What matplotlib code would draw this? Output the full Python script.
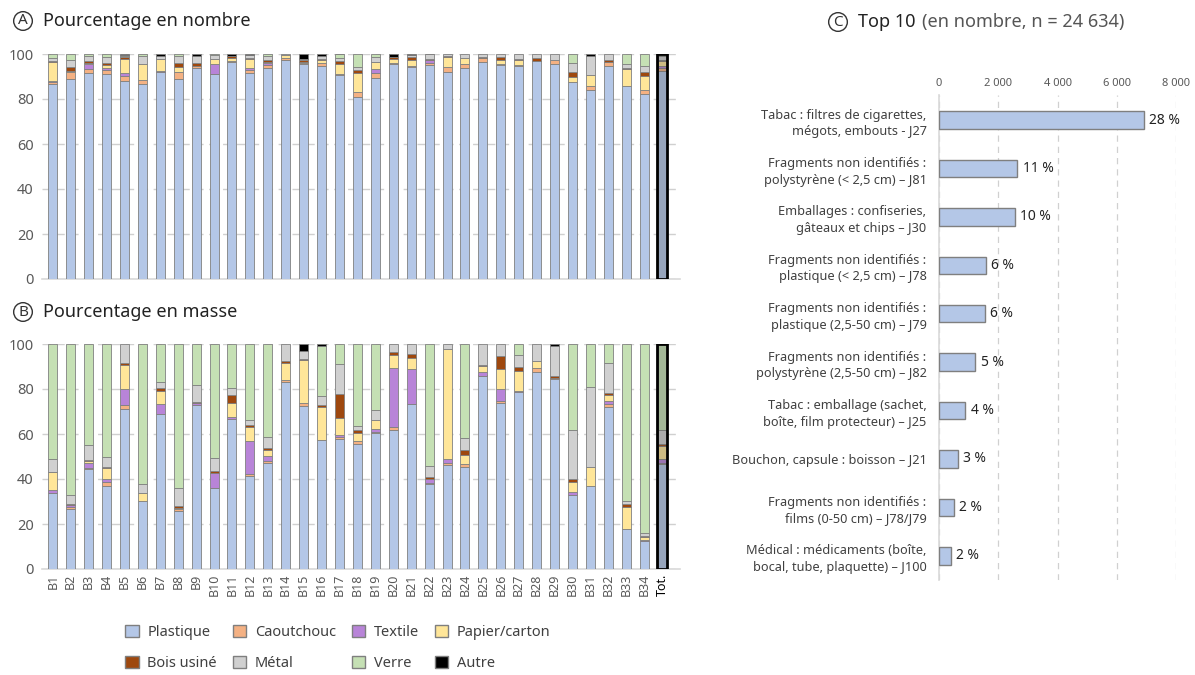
import numpy as np
import matplotlib.pyplot as plt
from matplotlib.patches import Patch

plt.rcParams['font.family'] = ['Noto Sans', 'DejaVu Sans']

sites = ["B1", "B2", "B3", "B4", "B5", "B6", "B7", "B8", "B9", "B10", "B11", "B12",
         "B13", "B14", "B15", "B16", "B17", "B18", "B19", "B20", "B21", "B22", "B23",
         "B24", "B25", "B26", "B27", "B28", "B29", "B30", "B31", "B32", "B33", "B34", "Tot."]

materiaux = ["Plastique", "Caoutchouc", "Textile", "Papier/carton",
             "Bois usiné", "Métal", "Verre", "Autre"]
couleurs = ["#B4C7E7", "#F4B183", "#B884D8", "#FFE699",
            "#9E480E", "#D0D0D0", "#C5E0B4", "#000000"]

# A : pourcentage en nombre
nb_plastique = [86.5, 88.8, 91.4, 91.0, 88.2, 86.6, 91.8, 89.0, 93.6, 91.0, 96.4, 91.4,
                93.9, 97.2, 95.5, 94.5, 90.5, 80.8, 89.3, 95.7, 94.2, 95.2, 92.2,
                93.8, 96.3, 95.2, 94.8, 96.7, 95.7, 87.6, 84.0, 94.5, 85.9, 82.3, 92.6]
nb_caoutchouc = [1.2, 3.0, 2.0, 1.8, 2.2, 2.0, 0.3, 3.0, 0.9, 0.3, 0.3, 1.3,
                 1.3, 1.0, 0.4, 1.5, 0.6, 2.2, 2.2, 0.5, 0.5, 0.8, 2.0,
                 1.9, 1.9, 0.3, 0.5, 0.4, 1.5, 0.0, 1.8, 1.8, 0.0, 1.8, 1.2]
nb_textile = [0.5, 0.3, 2.0, 1.0, 1.3, 0.0, 0.5, 0.2, 0.0, 4.2, 0.0, 1.2,
              1.0, 0.0, 0.0, 0.0, 0.0, 0.0, 1.8, 0.0, 0.0, 1.2, 0.0,
              0.0, 0.0, 0.0, 0.0, 0.0, 0.0, 0.0, 0.0, 0.0, 0.0, 0.0, 0.7]
nb_papier = [8.3, 0.3, 0.7, 1.5, 6.2, 7.0, 5.0, 2.2, 0.0, 2.4, 1.5, 4.0,
             0.3, 1.5, 0.5, 1.5, 4.5, 8.5, 3.0, 1.5, 2.5, 0.0, 4.5,
             2.5, 0.0, 1.9, 1.9, 0.0, 0.0, 2.0, 5.0, 0.0, 7.4, 6.2, 2.2]
nb_bois = [0.3, 2.0, 1.0, 0.5, 0.6, 0.0, 0.4, 1.4, 1.5, 0.0, 0.7, 0.3,
           1.0, 0.0, 0.8, 0.4, 1.2, 1.2, 0.2, 0.8, 1.5, 0.6, 0.4,
           0.0, 0.6, 1.4, 0.6, 1.3, 0.0, 2.2, 0.0, 1.2, 0.6, 1.5, 0.7]
nb_metal = [1.5, 3.0, 1.8, 3.0, 0.7, 3.3, 1.0, 3.3, 3.3, 1.7, 0.0, 1.2,
            1.6, 0.3, 0.8, 1.3, 1.5, 1.6, 2.0, 0.3, 0.8, 2.0, 0.9,
            1.8, 1.2, 1.2, 2.2, 1.6, 2.8, 4.0, 8.3, 2.5, 1.6, 3.0, 1.5]
nb_verre = [1.7, 2.6, 1.1, 1.2, 0.5, 1.1, 0.2, 0.9, 0.0, 0.4, 0.0, 0.2,
            0.9, 0.0, 0.0, 0.0, 1.5, 5.7, 1.5, 0.0, 0.0, 0.0, 0.0,
            0.0, 0.0, 0.0, 0.0, 0.0, 0.0, 4.2, 0.0, 0.0, 4.5, 5.2, 0.9]
nb_autre = [0.0, 0.0, 0.0, 0.0, 0.3, 0.0, 0.8, 0.0, 0.7, 0.0, 1.1, 0.4,
            0.0, 0.0, 2.0, 0.8, 0.2, 0.0, 0.0, 1.2, 0.5, 0.2, 0.0,
            0.0, 0.0, 0.0, 0.0, 0.0, 0.0, 0.0, 0.9, 0.0, 0.0, 0.0, 0.2]

# B : pourcentage en masse
ms_plastique = [33.7, 26.5, 44.6, 37.0, 71.3, 30.2, 69.1, 25.7, 72.8, 36.0, 66.6, 41.2,
                47.1, 83.2, 72.4, 57.2, 58.0, 55.7, 60.5, 61.7, 73.5, 37.9, 46.1,
                45.3, 85.7, 73.6, 78.8, 87.7, 84.3, 33.1, 37.1, 72.1, 17.8, 12.3, 46.5]
ms_caoutchouc = [0.0, 1.0, 0.5, 1.5, 1.5, 0.0, 0.0, 1.0, 0.0, 0.0, 0.0, 1.0,
                 1.0, 1.0, 1.2, 0.0, 0.5, 1.0, 0.5, 1.5, 0.0, 0.5, 1.0,
                 1.5, 0.3, 1.2, 0.0, 1.5, 0.5, 0.0, 0.0, 1.2, 0.0, 0.0, 0.5]
ms_textile = [1.5, 0.8, 2.2, 1.5, 7.4, 0.0, 4.2, 0.0, 1.0, 6.7, 0.8, 14.9,
              2.2, 0.0, 0.0, 0.0, 1.0, 0.0, 1.4, 26.0, 15.6, 1.5, 1.9,
              0.0, 1.6, 5.0, 0.2, 0.0, 0.0, 1.0, 0.0, 1.5, 0.0, 0.5, 2.0]
ms_papier = [7.9, 0.0, 0.5, 4.7, 10.4, 3.6, 6.0, 0.5, 0.0, 0.0, 6.4, 6.0,
             2.5, 7.4, 19.3, 14.9, 7.4, 3.7, 4.0, 5.8, 4.9, 0.0, 49.0,
             4.0, 2.5, 8.9, 9.2, 3.4, 0.0, 4.5, 8.2, 2.5, 9.7, 1.5, 5.5]
ms_bois = [0.2, 0.8, 0.8, 0.8, 1.0, 0.0, 1.0, 1.0, 0.5, 0.8, 3.4, 1.0,
           1.2, 1.0, 0.3, 0.8, 10.8, 1.5, 0.0, 1.5, 1.5, 1.2, 0.0,
           1.9, 0.7, 5.9, 1.5, 0.0, 1.0, 1.5, 0.0, 1.0, 1.5, 0.3, 1.2]
ms_metal = [5.5, 4.0, 6.4, 4.5, 8.4, 4.2, 3.0, 8.0, 7.4, 6.0, 3.3, 2.2,
            4.5, 7.4, 3.9, 4.0, 13.4, 1.5, 4.2, 3.5, 4.5, 4.5, 2.0,
            5.6, 9.2, 5.4, 5.3, 7.4, 13.4, 21.5, 35.4, 13.1, 1.2, 1.2, 6.2]
ms_verre = [51.2, 66.9, 45.0, 50.0, 0.0, 62.0, 16.7, 63.8, 18.3, 50.5, 19.5, 33.7,
            41.5, 0.0, 0.0, 22.2, 8.9, 36.6, 29.4, 0.0, 0.0, 54.4, 0.0,
            41.7, 0.0, 0.0, 5.0, 0.0, 0.0, 38.4, 19.3, 8.6, 69.8, 84.2, 38.1]
ms_autre = [0.0, 0.0, 0.0, 0.0, 0.0, 0.0, 0.0, 0.0, 0.0, 0.0, 0.0, 0.0,
            0.0, 0.0, 2.9, 0.9, 0.0, 0.0, 0.0, 0.0, 0.0, 0.0, 0.0,
            0.0, 0.0, 0.0, 0.0, 0.0, 0.8, 0.0, 0.0, 0.0, 0.0, 0.0, 0.0]

# C : top 10 en nombre
top_labels = ["Tabac : filtres de cigarettes,\nmégots, embouts - J27",
              "Fragments non identifiés :\npolystyrène (< 2,5 cm) – J81",
              "Emballages : confiseries,\ngâteaux et chips – J30",
              "Fragments non identifiés :\nplastique (< 2,5 cm) – J78",
              "Fragments non identifiés :\nplastique (2,5-50 cm) – J79",
              "Fragments non identifiés :\npolystyrène (2,5-50 cm) – J82",
              "Tabac : emballage (sachet,\nboîte, film protecteur) – J25",
              "Bouchon, capsule : boisson – J21",
              "Fragments non identifiés :\nfilms (0-50 cm) – J78/J79",
              "Médical : médicaments (boîte,\nbocal, tube, plaquette) – J100"]
top_counts = [6916, 2649, 2558, 1578, 1544, 1229, 891, 643, 507, 390]
top_pct = [28, 11, 10, 6, 6, 5, 4, 3, 2, 2]

nombre = [nb_plastique, nb_caoutchouc, nb_textile, nb_papier, nb_bois, nb_metal, nb_verre, nb_autre]
masse = [ms_plastique, ms_caoutchouc, ms_textile, ms_papier, ms_bois, ms_metal, ms_verre, ms_autre]

W, H = 1195, 675
fig = plt.figure(figsize=(W / 100, H / 100), dpi=100)


def box(x0, y0, x1, y1):
    # pixel box -> figure fraction
    return [x0 / W, (H - y1) / H, (x1 - x0) / W, (y1 - y0) / H]


def empile(ax, series):
    x = np.arange(len(sites))
    bas = np.zeros(len(sites))
    for vals, col in zip(series, couleurs):
        vals = np.array(vals)
        ax.bar(x, vals, 0.5, bottom=bas, color=col, edgecolor='#808080',
               linewidth=np.where(vals > 0, 0.6, 0), zorder=3)
        bas += vals
    ax.bar(x[-1], bas[-1], 0.56, color=(0.3, 0.3, 0.3, 0.28), edgecolor='black',
           linewidth=2, zorder=4)
    ax.set_xlim(-0.6, 35.0)
    ax.set_ylim(0, 100)
    ax.set_yticks([0, 20, 40, 60, 80, 100])
    ax.grid(axis='y', color='#D0D0D0', linestyle=(0, (6, 4)), linewidth=1, zorder=0)
    for s in ['top', 'right', 'left']:
        ax.spines[s].set_visible(False)
    ax.spines['bottom'].set_color('#D9D9D9')
    ax.spines['bottom'].set_linewidth(1.2)
    ax.tick_params(axis='y', length=0, labelsize=10.5, labelcolor='#595959', pad=6)
    ax.tick_params(axis='x', length=0)


def titre(lettre, texte, x, y):
    fig.text(x / W, 1 - y / H, lettre, fontsize=11, color='#333333', ha='center', va='center',
             bbox=dict(boxstyle='circle,pad=0.12', fc='none', ec='#333333', lw=1))
    return fig.text((x + 20) / W, 1 - y / H, texte, fontsize=13, color='#222222', va='center')


axA = fig.add_axes(box(42, 54, 680, 279))
empile(axA, nombre)
axA.set_xticks([])

axB = fig.add_axes(box(42, 344, 680, 569))
empile(axB, masse)
axB.set_xticks(np.arange(len(sites)))
axB.set_xticklabels(sites, rotation=90, fontsize=9, color='#595959')
axB.get_xticklabels()[-1].set_fontweight('bold')
axB.get_xticklabels()[-1].set_color('black')

titre("A", "Pourcentage en nombre", 23, 21)
titre("B", "Pourcentage en masse", 23, 312)

# C
axC = fig.add_axes(box(939, 95, 1176, 580))
y = np.arange(len(top_counts))
axC.barh(y, top_counts, 0.36, color='#B4C7E7', edgecolor='#7F7F7F', linewidth=1, zorder=3)
for yi, c, p in zip(y, top_counts, top_pct):
    axC.text(c + 180, yi, f"{p} %", va='center', ha='left', fontsize=10,
             fontweight='bold', color='#222222')
axC.set_xlim(0, 8000)
axC.set_ylim(9.5, -0.52)
axC.set_xticks([0, 2000, 4000, 6000, 8000])
axC.set_xticklabels(["0", "2 000", "4 000", "6 000", "8 000"])
axC.xaxis.tick_top()
axC.tick_params(axis='x', length=0, labelsize=8, labelcolor='#595959', pad=4)
axC.set_yticks(y)
axC.set_yticklabels(top_labels, fontsize=9.2, color='#404040', linespacing=1.35)
axC.tick_params(axis='y', length=0, pad=9)
axC.grid(axis='x', color='#D0D0D0', linestyle=(0, (5, 4)), linewidth=0.9, zorder=0)
for s in ['top', 'right', 'bottom']:
    axC.spines[s].set_visible(False)
axC.spines['left'].set_color('#D9D9D9')
axC.spines['left'].set_linewidth(1.2)

tC = titre("C", "Top 10", 838, 22)
fig.canvas.draw()
bb = tC.get_window_extent()
fig.text((bb.x1 + 6) / W, 1 - 22 / H, "(en nombre, n = 24 634)", fontsize=13,
         color='#555555', va='center')

# légende : 2 lignes de 4, remplie ligne par ligne
ordre = [0, 4, 1, 5, 2, 6, 3, 7]
poignees = [Patch(facecolor=couleurs[i], edgecolor='#7F7F7F', label=materiaux[i]) for i in ordre]
fig.legend(handles=poignees, loc='center', bbox_to_anchor=(338 / W, 1 - 648 / H), ncol=4,
           frameon=False, fontsize=10.5, handlelength=0.9, handleheight=0.9,
           columnspacing=1.1, handletextpad=0.6, labelspacing=1.1, labelcolor='#404040')

fig.savefig("out.png", dpi=100)
